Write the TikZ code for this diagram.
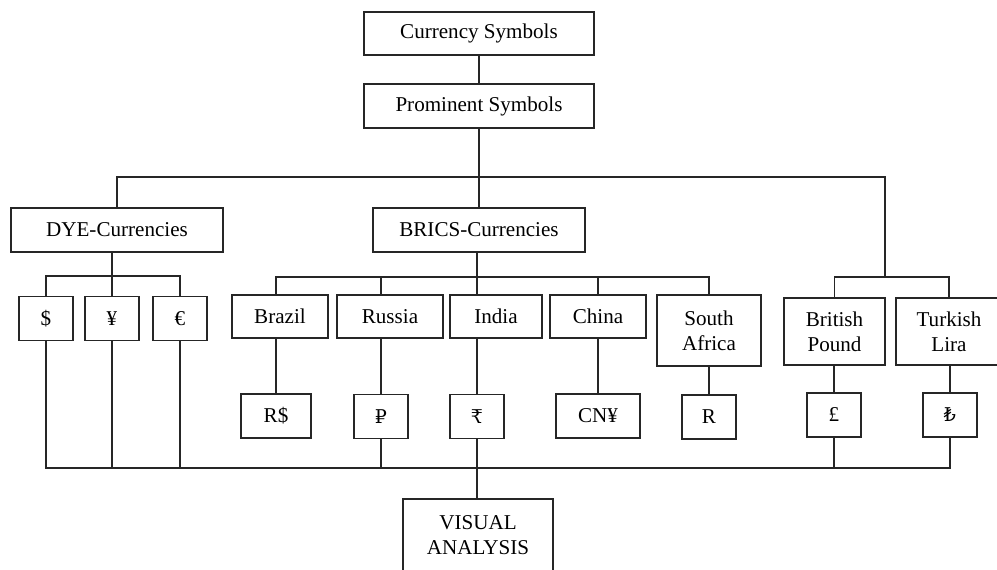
\documentclass[tikz,border=0pt]{standalone}
\usepackage{fontspec}
\setmainfont{Liberation Serif}
\newfontfamily\symfont[Scale=0.9]{DejaVu Serif}
\usetikzlibrary{positioning}

\begin{document}
\begin{tikzpicture}[
        box/.style={rectangle, draw=black!85, line width=0.6pt, inner sep=0pt, align=center, font=\fontsize{12}{14}\selectfont, minimum height=0.86cm},
        sym/.style={box, minimum width=1.08cm, minimum height=0.88cm},
        wire/.style={draw=black!85, line width=0.6pt}
    ]
    \useasboundingbox (0,0) rectangle (19.94,-11.40);

    % Top of the tree
    \node[box, minimum width=4.6cm] (cur) at (9.58, -0.67) {Currency Symbols};
    \node[box, minimum width=4.6cm, minimum height=0.88cm] (prom) at (9.58, -2.12) {Prominent Symbols};
    \node[box, minimum width=4.24cm, minimum height=0.88cm] (dye) at (2.34, -4.60) {DYE-Currencies};
    \node[box, minimum width=4.24cm, minimum height=0.88cm] (bric) at (9.58, -4.60) {BRICS-Currencies};

    % DYE symbols
    \node[sym] (usd) at (0.92, -6.37) {\$};
    \node[sym, minimum width=1.08cm] (jpy) at (2.24, -6.37) {¥};
    \node[sym] (eur) at (3.60, -6.37) {€};

    % BRICS countries
    \node[box, minimum width=1.92cm] (bra) at (5.60, -6.33) {Brazil};
    \node[box, minimum width=2.12cm] (rus) at (7.80, -6.33) {Russia};
    \node[box, minimum width=1.84cm] (ind) at (9.92, -6.33) {India};
    \node[box, minimum width=1.92cm] (chn) at (11.96, -6.33) {China};
    \node[box, minimum width=2.08cm, minimum height=1.42cm] (saf) at (14.18, -6.61) {South\\Africa};

    % other currencies
    \node[box, minimum width=2.02cm, minimum height=1.34cm] (pnd) at (16.69, -6.63) {British\\Pound};
    \node[box, minimum width=2.12cm, minimum height=1.34cm] (lir) at (18.98, -6.63) {Turkish\\Lira};

    % symbols of the second row
    \node[sym, minimum width=1.40cm] (brl) at (5.52, -8.32) {R\$};
    \node[sym] (rub) at (7.62, -8.33) {\symfont ₽};
    \node[sym] (inr) at (9.54, -8.33) {\symfont ₹};
    \node[sym, minimum width=1.68cm] (cny) at (11.96, -8.32) {CN¥};
    \node[sym] (zar) at (14.18, -8.34) {R};
    \node[sym] (gbp) at (16.68, -8.30) {£};
    \node[sym] (try) at (19.00, -8.30) {\symfont ₺};

    \node[box, minimum width=3.0cm, minimum height=1.44cm] (va) at (9.56, -10.70) {VISUAL\\ANALYSIS};

    \coordinate (topjn) at (9.58, -3.54);
    \coordinate (rjn) at (17.70, -5.54);
    \coordinate (bjn) at (9.58, -5.54);
    \coordinate (bus) at (9.54, -9.36);

    % upper connectors
    \draw[wire] (cur) -- (prom);
    \draw[wire] (prom) -- (bric);
    \draw[wire] (dye.north) |- (topjn) -| (rjn);
    \draw[wire] (pnd.north) -- (pnd.north |- rjn) -| (lir.north);
    \draw[wire] (usd.north) -- ++(0,0.40) -| (eur.north);
    \draw[wire] (dye.south -| jpy) -- (jpy.north);
    \draw[wire] (bra.north -| brl) |- (bjn) -| (saf.north);
    \draw[wire] (rub |- bjn) -- (rus.north -| rub);
    \draw[wire] (bric.south -| inr) -- (ind.north -| inr);
    \draw[wire] (chn.north) -- (chn.north |- bjn);

    % country to symbol
    \draw[wire] (bra.south -| brl) -- (brl.north);
    \draw[wire] (rus.south -| rub) -- (rub.north);
    \draw[wire] (ind.south -| inr) -- (inr.north);
    \draw[wire] (chn.south) -- (cny.north);
    \draw[wire] (saf.south) -- (zar.north);
    \draw[wire] (pnd.south -| gbp) -- (gbp.north);
    \draw[wire] (lir.south -| try) -- (try.north);

    % bottom bus
    \draw[wire] (usd.south) |- (bus) -| (try.south);
    \draw[wire] (jpy.south) -- (jpy.south |- bus);
    \draw[wire] (eur.south) -- (eur.south |- bus);
    \draw[wire] (rub.south) -- (rub.south |- bus);
    \draw[wire] (gbp.south) -- (gbp.south |- bus);
    \draw[wire] (inr.south) -- (va.north -| inr);
\end{tikzpicture}
\end{document}
